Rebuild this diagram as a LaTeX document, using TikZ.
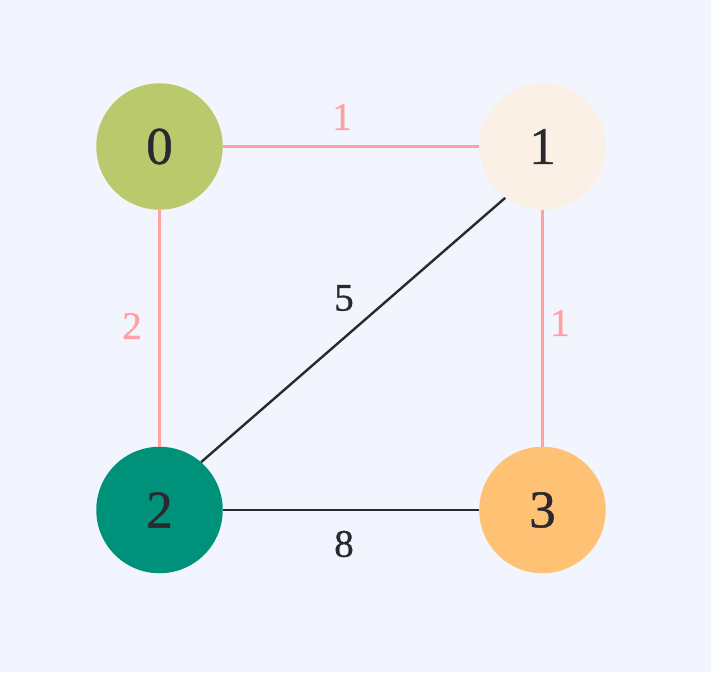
\documentclass[tikz,border=0pt]{standalone}
\usepackage{fontspec}
\setmainfont{Liberation Serif}[FakeBold=0.8]
\definecolor{bg}{HTML}{F3F5FE}
\definecolor{cA}{HTML}{B9C96B}
\definecolor{cB}{HTML}{FAF0E6}
\definecolor{cC}{HTML}{00917A}
\definecolor{cD}{HTML}{FFC174}
\definecolor{pinkline}{HTML}{FFA0A2}
\definecolor{darkline}{HTML}{2A2A2E}
\begin{document}
\begin{tikzpicture}[x=1pt,y=-1pt,
  vert/.style={circle,minimum size=126.5pt,inner sep=0pt,text=darkline,font=\fontsize{53}{60}\selectfont},
  pedge/.style={draw=pinkline,line width=2.4pt},
  dedge/.style={draw=darkline,line width=2.4pt},
  plabel/.style={text=pinkline,font=\fontsize{39}{44}\selectfont,inner sep=0pt},
  dlabel/.style={text=darkline,font=\fontsize{39}{44}\selectfont,inner sep=0pt}]
\fill[bg] (0,0) rectangle (711,672);
\useasboundingbox (0,0) rectangle (711,672);
\node[vert,fill=cA] (n0) at (159.5,146.5) {0};
\node[vert,fill=cB] (n1) at (542.5,146.5) {1};
\node[vert,fill=cC] (n2) at (159.5,510) {2};
\node[vert,fill=cD] (n3) at (542.5,510) {3};
\path[pedge] (n0) -- (n1);
\path[pedge] (n0) -- (n2);
\path[pedge] (n1) -- (n3);
\path[dedge] (n1.234) -- (n2.49);
\path[dedge] (n2) -- (n3);
\node[plabel] (l01) at (342,117) {1};
\node[plabel] (l02) at (132,326) {2};
\node[plabel] (l13) at (560,323) {1};
\node[dlabel] (l12) at (344,298) {5};
\node[dlabel] (l23) at (344,544) {8};
\end{tikzpicture}
\end{document}
